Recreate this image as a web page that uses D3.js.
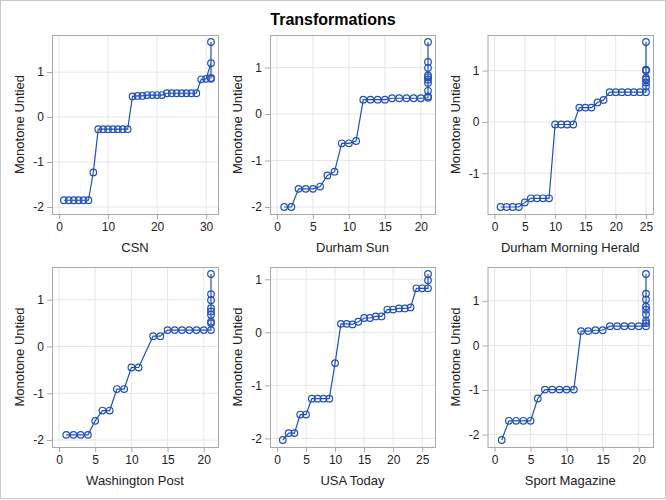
<!DOCTYPE html>
<html><head><meta charset="utf-8">
<script src="https://cdn.jsdelivr.net/npm/d3@7"></script>
<style>
html,body{margin:0;padding:0;background:#fff;}
svg{display:block;font-family:"Liberation Sans",Arial,sans-serif;}
</style></head>
<body><svg id="c" width="666" height="500"></svg>
<script>
// ---- data ----
const titles = ["CSN","Durham Sun","Durham Morning Herald","Washington Post","USA Today","Sport Magazine"];
const yLabel = "Monotone Untied";

const csnX = [1,2,3,4,5,6,7,8,9,10,11,12,13,14,15,16,17,18,19,20,21,22,23,24,25,26,27,28,29,30,31,31,31,31];
const csnY = [-1.85,-1.85,-1.85,-1.85,-1.85,-1.85,-1.23,-0.27,-0.27,-0.27,-0.27,-0.27,-0.27,-0.27,0.46,0.47,0.47,0.49,0.49,0.49,0.49,0.53,0.53,0.53,0.53,0.53,0.53,0.53,0.84,0.85,1.20,1.67,0.87,0.85];

const sunX = [1,2,3,4,5,6,7,8,9,10,11,12,13,14,15,16,17,18,19,20,21,21,21,21,21,21,21,21,21,21];
const sunY = [-2.00,-2.00,-1.61,-1.61,-1.61,-1.56,-1.32,-1.24,-0.63,-0.63,-0.58,0.31,0.31,0.31,0.31,0.34,0.34,0.34,0.34,0.34,0.35,0.38,0.50,0.67,0.74,0.79,0.83,0.99,1.12,1.55];

const heraldX = [1,2,3,4,5,6,7,8,9,10,11,12,13,14,15,16,17,18,19,20,21,22,23,24,25,25,25,25,25,25,25,25];
const heraldY = [-1.66,-1.66,-1.66,-1.66,-1.57,-1.49,-1.49,-1.49,-1.49,-0.05,-0.05,-0.05,-0.05,0.28,0.28,0.28,0.38,0.43,0.58,0.58,0.58,0.58,0.58,0.58,0.58,0.69,0.77,0.83,0.86,1.00,1.02,1.56];

const postX = [1,2,3,4,5,6,7,8,9,10,11,13,14,15,16,17,18,19,20,21,21,21,21,21,21,21,21,21];
const postY = [-1.89,-1.89,-1.89,-1.89,-1.59,-1.37,-1.37,-0.91,-0.91,-0.45,-0.45,0.22,0.22,0.35,0.35,0.35,0.35,0.35,0.35,0.35,0.50,0.53,0.68,0.75,0.82,0.99,1.12,1.55];

const usaX = [1,2,3,4,5,6,7,8,9,10,11,12,13,14,15,16,17,18,19,20,21,22,23,24,25,26,26,26];
const usaY = [-2.03,-1.90,-1.90,-1.55,-1.55,-1.25,-1.25,-1.25,-1.25,-0.58,0.16,0.16,0.15,0.20,0.27,0.27,0.30,0.30,0.43,0.43,0.45,0.45,0.47,0.83,0.83,0.83,0.98,1.10];

const sportX = [1,2,3,4,5,6,7,8,9,10,11,12,13,14,15,16,17,18,19,20,21,21,21,21,21,21,21,21,21];
const sportY = [-2.12,-1.69,-1.69,-1.69,-1.69,-1.19,-0.99,-0.99,-0.99,-0.99,-0.99,0.32,0.32,0.34,0.34,0.43,0.43,0.43,0.43,0.43,0.43,0.50,0.55,0.70,0.80,0.87,1.03,1.16,1.60];

const xTicks = [[0,10,20,30],[0,5,10,15,20],[0,5,10,15,20,25],[0,5,10,15,20],[0,5,10,15,20,25],[0,5,10,15,20]];
const yTicks = [[-2,-1,0,1],[-2,-1,0,1],[-1,0,1],[-2,-1,0,1],[-2,-1,0,1],[-2,-1,0,1]];

const seriesX = [csnX,sunX,heraldX,postX,usaX,sportX];
const seriesY = [csnY,sunY,heraldY,postY,usaY,sportY];

// ---- layout ----
const W = 666, H = 500;
const svg = d3.select("#c");
const blue = "#2050b8", frameCol = "#a8a8a8", gridCol = "#e6e6e6";
svg.append("rect").attr("x",0.5).attr("y",0.5).attr("width",W-1).attr("height",H-2)
  .attr("fill","#fff").attr("stroke","#c8c8c8");
svg.append("text").attr("x",W/2).attr("y",25).attr("text-anchor","middle")
  .attr("font-size",16).attr("font-weight","bold").text("Transformations");

const colL = [52, 270, 487.5], colR = [218, 435, 653];
const rowT = [35, 267], rowB = [214, 447];
const pad = 7;

for (let i = 0; i < 6; i++) {
  const c = i % 3, r = Math.floor(i / 3);
  const L = colL[c], R = colR[c], T = rowT[r], B = rowB[r];
  const xs = seriesX[i], ys = seriesY[i];
  const yMinData = d3.min(ys), yMaxData = d3.max(ys);
  const yMin = Math.min(yMinData, d3.min(yTicks[i]));
  const x = d3.scaleLinear().domain([0, d3.max(xs)]).range([L + pad, R - pad]);
  const y = d3.scaleLinear().domain([yMin, yMaxData]).range([B - pad, T + pad]);
  const g = svg.append("g");

  // grid
  g.selectAll(".gx").data(xTicks[i]).join("line")
    .attr("x1", d => x(d)).attr("x2", d => x(d)).attr("y1", T).attr("y2", B)
    .attr("stroke", gridCol).attr("stroke-width", 1);
  g.selectAll(".gy").data(yTicks[i]).join("line")
    .attr("y1", d => y(d)).attr("y2", d => y(d)).attr("x1", L).attr("x2", R)
    .attr("stroke", gridCol).attr("stroke-width", 1);

  // axes
  const ax = g.append("g").attr("transform", `translate(0,${B})`)
    .call(d3.axisBottom(x).tickValues(xTicks[i]).tickSize(5).tickPadding(3).tickFormat(d3.format("d")));
  const ay = g.append("g").attr("transform", `translate(${L},0)`)
    .call(d3.axisLeft(y).tickValues(yTicks[i]).tickSize(5).tickPadding(3).tickFormat(d => d < 0 ? "-" + Math.abs(d) : d));
  [ax, ay].forEach(a => {
    a.select(".domain").remove();
    a.selectAll(".tick line").attr("stroke", frameCol);
    a.selectAll(".tick text").attr("font-size", 12).attr("fill", "#222")
      .attr("font-family", '"Liberation Sans",Arial,sans-serif');
  });

  // frame
  g.append("rect").attr("x", L + 0.5).attr("y", T + 0.5).attr("width", R - L).attr("height", B - T)
    .attr("fill", "none").attr("stroke", frameCol);

  // line + markers
  const pts = xs.map((d, k) => [d, ys[k]]);
  g.append("path").datum(pts)
    .attr("d", d3.line().x(d => x(d[0])).y(d => y(d[1])))
    .attr("fill", "none").attr("stroke", blue).attr("stroke-width", 1.2);
  g.selectAll("circle").data(pts).join("circle")
    .attr("cx", d => x(d[0])).attr("cy", d => y(d[1])).attr("r", 3.3)
    .attr("fill", "#fff").attr("fill-opacity", 0).attr("stroke", blue).attr("stroke-width", 1.2);

  // labels
  g.append("text").attr("x", (L + R) / 2).attr("y", B + 38).attr("text-anchor", "middle")
    .attr("font-size", 13).attr("fill", "#222").text(titles[i]);
  const ylx = [19.5, 237.5, 455][c];
  g.append("text").attr("transform", `translate(${ylx},${(T + B) / 2}) rotate(-90)`)
    .attr("text-anchor", "middle").attr("dominant-baseline", "central")
    .attr("font-size", 13).attr("fill", "#222").text(yLabel);
}
</script></body></html>
